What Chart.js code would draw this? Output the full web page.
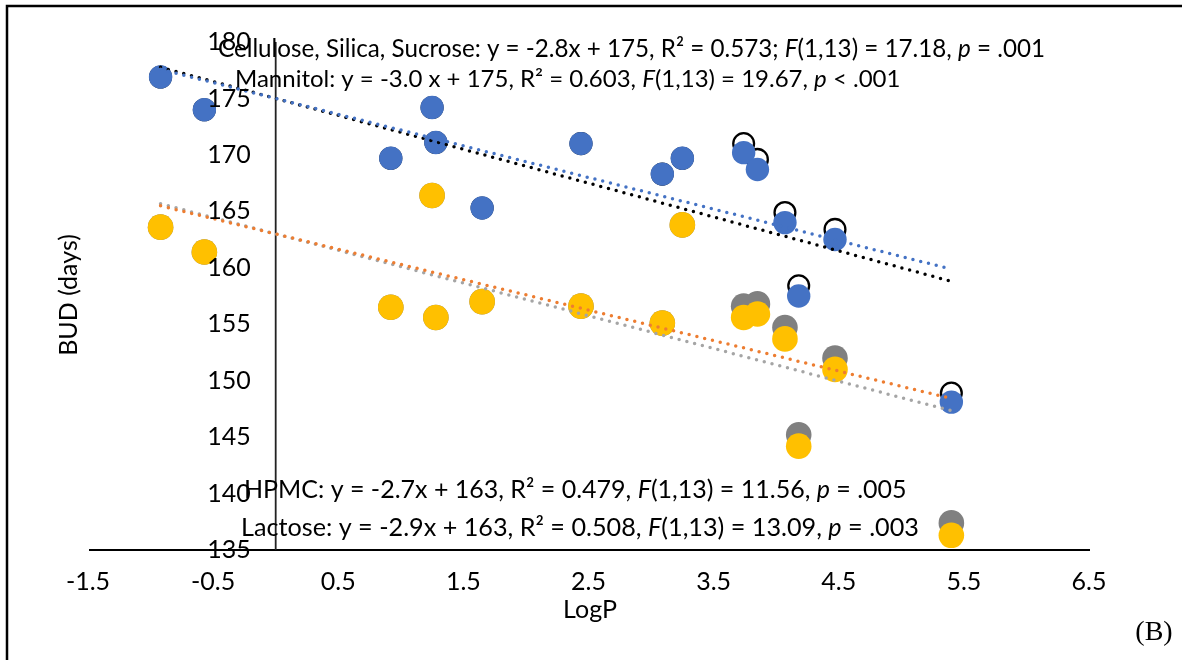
<!DOCTYPE html>
<html>
<head>
<meta charset="utf-8">
<script src="https://cdn.jsdelivr.net/npm/chart.js@4.4.1/dist/chart.umd.min.js"></script>
<style>
  body { margin: 0; background: #fff; }
  canvas { display: block; }
</style>
</head>
<body>
<canvas id="chart1" width="1182" height="660"></canvas>
<script>
// values
const logP = [-0.92, -0.57, 0.92, 1.25, 1.28, 1.65, 2.44, 3.09, 3.25, 3.74, 3.85, 4.07, 4.18, 4.47, 5.40];
const budCellulose = [176.9, 174.0, 169.7, 174.2, 171.1, 165.3, 171.0, 168.3, 169.7, 170.2, 168.7, 164.0, 157.5, 162.5, 148.1];
const budMannitol = [176.9, 174.0, 169.7, 174.2, 171.1, 165.3, 171.0, 168.3, 169.7, 171.0, 169.6, 164.9, 158.4, 163.4, 148.9];
const budHPMC = [163.6, 161.4, 156.5, 166.4, 155.6, 157.0, 156.6, 155.1, 163.8, 156.6, 156.8, 154.7, 145.2, 152.0, 137.4];
const budLactose = [163.6, 161.4, 156.5, 166.4, 155.6, 157.0, 156.6, 155.1, 163.8, 155.6, 155.9, 153.7, 144.2, 151.0, 136.3];

// trendline equations as printed on the chart
const trendSlope = [-2.8, -3.0, -2.7, -2.9];
const trendIntercept = [175, 175, 163, 163];

const xTicks = [-1.5, -0.5, 0.5, 1.5, 2.5, 3.5, 4.5, 5.5, 6.5];
const yTicks = [135, 140, 145, 150, 155, 160, 165, 170, 175, 180];

const labelCellulose = [['Cellulose, Silica, Sucrose: y = -2.8x + 175, R\u00b2 = 0.573; ', false], ['F', true], ['(1,13) = 17.18, ', false], ['p', true], [' = .001', false]];
const labelMannitol = [['Mannitol: y = -3.0 x + 175, R\u00b2 = 0.603, ', false], ['F', true], ['(1,13) = 19.67, ', false], ['p', true], [' < .001', false]];
const labelHPMC = [['HPMC: y = -2.7x + 163, R\u00b2 = 0.479, ', false], ['F', true], ['(1,13) = 11.56, ', false], ['p', true], [' = .005', false]];
const labelLactose = [['Lactose: y = -2.9x + 163, R\u00b2 = 0.508, ', false], ['F', true], ['(1,13) = 13.09, ', false], ['p', true], [' = .003', false]];

const FONT = 'Lato';
const TXT = 25;

function pts(ys) {
  return logP.map((x, i) => ({x: x, y: ys[i]}));
}

const xMin = Math.min(...logP);
const xMax = Math.max(...logP);
function trend(i) {
  return [xMin, xMax].map(x => ({x: x, y: trendSlope[i] * x + trendIntercept[i]}));
}

function trendSet(i, color) {
  return {
    type: 'line',
    data: trend(i),
    borderColor: color,
    borderWidth: 3.5,
    borderDash: [0, 8],
    borderCapStyle: 'round',
    pointRadius: 0,
    fill: false,
    order: 0
  };
}

function drawRuns(ctx, runs, x, y, size) {
  let cx = x;
  runs.forEach(r => {
    ctx.font = (r[1] ? 'italic ' : '') + size + 'px ' + FONT;
    ctx.fillText(r[0], cx, y);
    cx += ctx.measureText(r[0]).width;
  });
}

const extras = {
  id: 'extras',
  beforeDatasetsDraw(chart) {
    const ctx = chart.ctx;
    const xs = chart.scales.x, ys = chart.scales.y;
    const area = chart.chartArea;
    ctx.save();
    ctx.strokeStyle = '#000';
    ctx.lineWidth = 2;
    // horizontal axis at 135
    const yb = ys.getPixelForValue(135);
    ctx.beginPath();
    ctx.moveTo(area.left + 1, yb);
    ctx.lineTo(area.right + 1, yb);
    ctx.stroke();
    // vertical axis crossing at LogP = 0
    const x0 = xs.getPixelForValue(0);
    ctx.lineWidth = 1.8;
    ctx.strokeStyle = '#222';
    ctx.beginPath();
    ctx.moveTo(x0, ys.getPixelForValue(180));
    ctx.lineTo(x0, yb);
    ctx.stroke();
    ctx.restore();
  },
  afterDraw(chart) {
    const ctx = chart.ctx;
    const xs = chart.scales.x, ys = chart.scales.y;
    ctx.save();
    // outer frame (cut at right and bottom)
    ctx.strokeStyle = '#000';
    ctx.lineWidth = 2.5;
    ctx.beginPath();
    ctx.moveTo(7, 660);
    ctx.lineTo(7, 6);
    ctx.lineTo(1182, 6);
    ctx.stroke();

    ctx.fillStyle = '#000';
    ctx.textBaseline = 'middle';
    // y tick labels next to the crossing axis
    const x0 = xs.getPixelForValue(0);
    ctx.font = TXT + 'px ' + FONT;
    ctx.textAlign = 'right';
    yTicks.forEach(v => ctx.fillText(String(v), x0 - 25, ys.getPixelForValue(v)));

    // regression labels
    ctx.textAlign = 'left';
    drawRuns(ctx, labelCellulose, 218, 49, 24.2);
    drawRuns(ctx, labelMannitol, 235, 79, 24);
    drawRuns(ctx, labelHPMC, 244, 490, 25);
    drawRuns(ctx, labelLactose, 241, 528, 25.2);

    // axis titles
    ctx.font = TXT + 'px ' + FONT;
    ctx.textAlign = 'center';
    ctx.fillText('LogP', 590, 610);
    ctx.save();
    ctx.translate(69, 295);
    ctx.rotate(-Math.PI / 2);
    ctx.fillText('BUD (days)', 0, 0);
    ctx.restore();

    ctx.font = '28px "Liberation Serif"';
    ctx.fillText('(B)', 1154, 633);
    ctx.restore();
  }
};

new Chart(document.getElementById('chart1'), {
  type: 'scatter',
  data: {
    datasets: [
      trendSet(0, '#4472C4'),
      trendSet(1, '#000000'),
      trendSet(2, '#ED7D31'),
      trendSet(3, '#A5A5A5'),
      {
        label: 'Cellulose, Silica, Sucrose',
        data: pts(budCellulose),
        backgroundColor: '#4472C4',
        borderWidth: 0,
        pointRadius: 11.7,
        order: 1
      },
      {
        label: 'Mannitol',
        data: pts(budMannitol),
        backgroundColor: 'rgba(0,0,0,0)',
        borderColor: '#000',
        borderWidth: 2.3,
        pointRadius: 10.4,
        order: 2
      },
      {
        label: 'Lactose',
        data: pts(budLactose),
        backgroundColor: '#FFC000',
        borderWidth: 0,
        pointRadius: 12.8,
        order: 3
      },
      {
        label: 'HPMC',
        data: pts(budHPMC),
        backgroundColor: '#808080',
        borderWidth: 0,
        pointRadius: 12.8,
        order: 4
      }
    ]
  },
  options: {
    responsive: false,
    maintainAspectRatio: false,
    animation: false,
    layout: {
      padding: {left: 88, right: 93, top: 42, bottom: 110}
    },
    plugins: {
      legend: {display: false},
      tooltip: {enabled: false},
      title: {display: false}
    },
    scales: {
      x: {
        type: 'linear',
        min: -1.5,
        max: 6.5,
        position: {y: 135},
        afterBuildTicks: s => { s.ticks = xTicks.map(v => ({value: v})); },
        grid: {display: false},
        border: {display: false},
        ticks: {
          color: '#000',
          padding: 9,
          font: {family: FONT, size: TXT},
          callback: v => String(v)
        }
      },
      y: {
        type: 'linear',
        min: 135,
        max: 180,
        display: false,
        afterBuildTicks: s => { s.ticks = yTicks.map(v => ({value: v})); }
      }
    }
  },
  plugins: [extras]
});
</script>
</body>
</html>
